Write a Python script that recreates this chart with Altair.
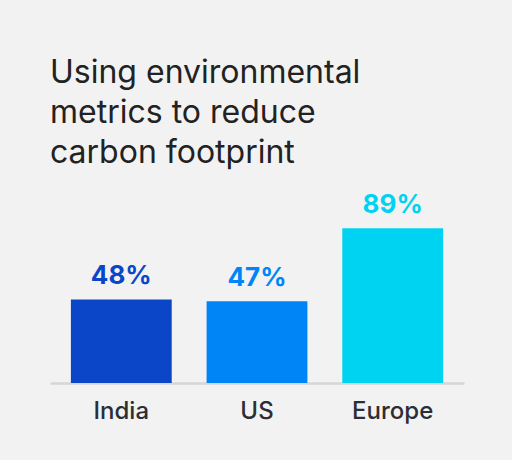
import altair as alt
import pandas as pd

categories = ["India", "US", "Europe"]
values = [48, 47, 89]
labels = ["48%", "47%", "89%"]
colors = ["#0b46c9", "#0085f7", "#00d3f2"]

df = pd.DataFrame({"cat": categories, "val": values, "lab": labels})

x = alt.X("cat:N", sort=categories, title=None,
          scale=alt.Scale(paddingInner=0.257, paddingOuter=0.154),
          axis=alt.Axis(labelAngle=0, labelFont="Inter", labelFontSize=24,
                        labelFontWeight=500, labelColor="#2b2e35",
                        ticks=False, labelPadding=16,
                        domainColor="#d6d6d6", domainWidth=2.5))
y = alt.Y("val:Q", scale=alt.Scale(domain=[0, 100]), axis=None)
color = alt.Color("cat:N", scale=alt.Scale(domain=categories, range=colors), legend=None)

bars = alt.Chart(df).mark_bar().encode(x=x, y=y, color=color)
text = alt.Chart(df).mark_text(font="Inter", fontSize=26, fontWeight="bold",
                               baseline="alphabetic", dy=-15).encode(
    x=alt.X("cat:N", sort=categories), y=y, text="lab:N", color=color)

chart = alt.layer(bars, text).properties(
    width=414, height=174,
    autosize=alt.AutoSizeParams(type="none"),
    padding={"left": 50, "top": 209, "right": 48, "bottom": 77},
    background="#f2f2f2",
    title=alt.TitleParams(
        text=["Using environmental", "metrics to reduce", "carbon footprint"],
        anchor="start", font="Inter", fontSize=32, fontWeight="normal",
        color="#222222", lineHeight=40, baseline="alphabetic", offset=44,
        dy=47, frame="group"),
).configure_view(stroke=None)

chart.save("out.html", embed_options={"renderer": "svg", "actions": False})
